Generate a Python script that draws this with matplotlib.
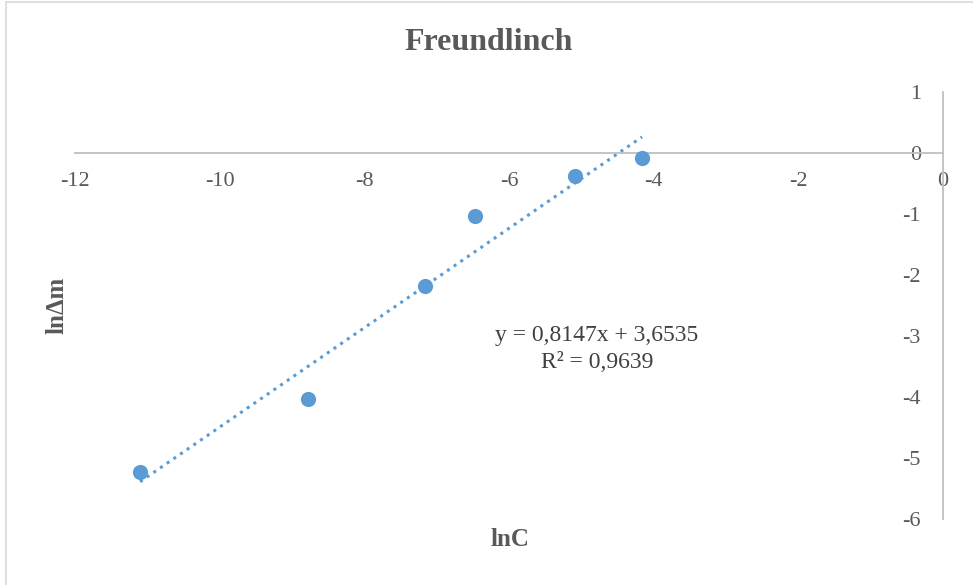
import matplotlib.pyplot as plt
from matplotlib.patches import Rectangle

# data
ln_c = [-11.10, -8.78, -7.16, -6.47, -5.09, -4.16]
ln_dm = [-5.23, -4.03, -2.18, -1.03, -0.38, -0.08]
slope = 0.8147
intercept = 3.6535
r_squared = 0.9639
x_ticks = [-12, -10, -8, -6, -4, -2, 0]
y_ticks = [-6, -5, -4, -3, -2, -1, 0, 1]

blue = '#5B9BD5'
grey_text = '#595959'
axis_grey = '#BFBFBF'


def main():
    plt.rcParams['font.family'] = ['Liberation Serif', 'DejaVu Serif']
    plt.rcParams['axes.unicode_minus'] = False

    fig = plt.figure(figsize=(9.73, 5.85), dpi=100)
    ax = fig.add_axes([75 / 973, 1 - 519 / 585, 868 / 973, 427 / 585])

    # chart area border (Excel style)
    fig.patches.append(Rectangle((6 / 973, -0.1), 1.2, 1 - 2.5 / 585 + 0.1,
                                 transform=fig.transFigure, fill=False,
                                 edgecolor='#D9D9D9', linewidth=1.2))

    ax.scatter(ln_c, ln_dm, s=120, color=blue, zorder=3, linewidths=0)

    # linear trendline over the data range
    x_line = [min(ln_c), max(ln_c)]
    y_line = [slope * x + intercept for x in x_line]
    ax.plot(x_line, y_line, color=blue, linestyle=':', linewidth=2.2, zorder=2)

    ax.set_xlim(-12, 0)
    ax.set_ylim(-6, 1)
    ax.set_xticks(x_ticks)
    ax.set_yticks(y_ticks)

    ax.spines['top'].set_visible(False)
    ax.spines['right'].set_visible(False)
    ax.spines['bottom'].set_position(('data', 0))
    ax.spines['left'].set_position(('data', 0))
    for side in ['bottom', 'left']:
        ax.spines[side].set_color(axis_grey)
        ax.spines[side].set_linewidth(1.3)

    ax.tick_params(axis='x', length=0, pad=14, labelsize=16, labelcolor=grey_text)
    ax.tick_params(axis='y', length=0, pad=16, labelsize=16, labelcolor=grey_text)

    fig.text(489 / 973, 1 - 42 / 585, 'Freundlinch', ha='center', va='center',
             fontsize=23, fontweight='bold', color=grey_text)
    fig.text(510 / 973, 1 - 540 / 585, 'lnC', ha='center', va='center',
             fontsize=18, fontweight='bold', color=grey_text)
    fig.text(57 / 973, 1 - 305 / 585, 'lnΔm', ha='center', va='center',
             rotation=90, fontsize=18, fontweight='bold', color=grey_text)

    eq = f'y = {slope:.4f}x + {intercept:.4f}'.replace('.', ',')
    r2 = f'R² = {r_squared:.4f}'.replace('.', ',')
    fig.text(597 / 973, 1 - 336 / 585, eq, ha='center', va='center',
             fontsize=17, color='#404040')
    fig.text(597 / 973, 1 - 362 / 585, r2, ha='center', va='center',
             fontsize=17, color='#404040')

    fig.savefig('out.png', dpi=100)


if __name__ == "__main__":
    main()
